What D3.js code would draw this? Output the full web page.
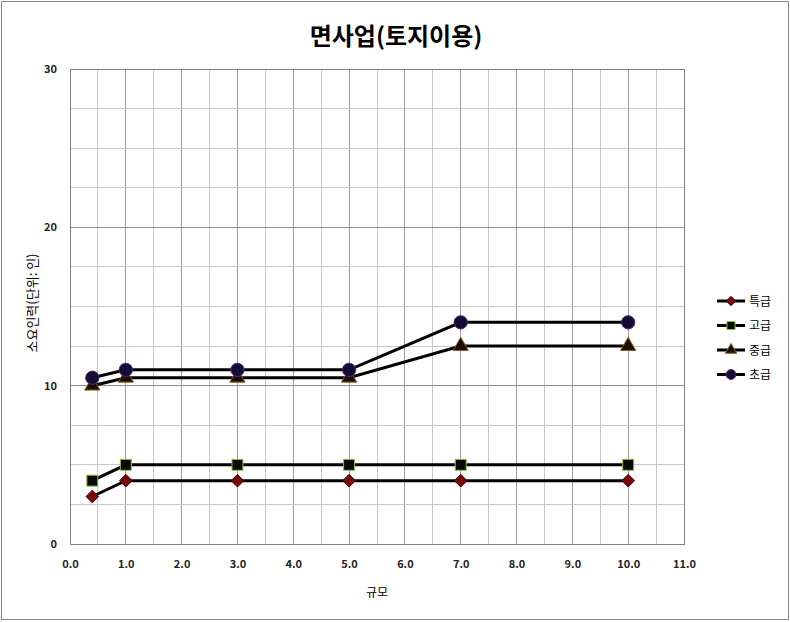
<!DOCTYPE html>
<html><head><meta charset="utf-8">
<script src="https://cdn.jsdelivr.net/npm/d3@7"></script>
<style>body{margin:0;background:#fff;} text{font-family:"Noto Sans CJK KR","Noto Sans",sans-serif;}</style>
</head><body>
<svg id="c" width="790" height="622"></svg>
<script>
const xValues = [0.4, 1, 3, 5, 7, 10];
const seriesNames = ["특급", "고급", "중급", "초급"];
const s1 = [3, 4, 4, 4, 4, 4];
const s2 = [4, 5, 5, 5, 5, 5];
const s3 = [10, 10.5, 10.5, 10.5, 12.5, 12.5];
const s4 = [10.5, 11, 11, 11, 14, 14];
const xTicks = [0,1,2,3,4,5,6,7,8,9,10,11];
const yTicks = [0,10,20,30];
const title = "면사업(토지이용)";
const xLabel = "규모";
const yLabel = "소요인력(단위: 인)";

const svg = d3.select("#c");
svg.append("rect").attr("x",1.5).attr("y",1.5).attr("width",787).attr("height",618)
  .attr("fill","#fff").attr("stroke","#888").attr("stroke-width",1);

const L=70, R=684, T=69, B=544;
const x = d3.scaleLinear().domain([0,11]).range([L,R]);
const y = d3.scaleLinear().domain([0,30]).range([B,T]);

const g = svg.append("g");
d3.range(0,11.01,0.5).forEach(v=>{
  const major = Math.abs(v-Math.round(v))<1e-6;
  g.append("line").attr("x1",x(v)).attr("x2",x(v)).attr("y1",T).attr("y2",B)
   .attr("stroke", major?"#a0a0a0":"#c8c8c8").attr("stroke-width",1).attr("shape-rendering","crispEdges");
});
d3.range(0,30.01,2.5).forEach(v=>{
  const major = Math.abs(v%10)<1e-6;
  g.append("line").attr("x1",L).attr("x2",R).attr("y1",y(v)).attr("y2",y(v))
   .attr("stroke", major?"#909090":"#c8c8c8").attr("stroke-width",1).attr("shape-rendering","crispEdges");
});
g.append("rect").attr("x",L).attr("y",T).attr("width",R-L).attr("height",B-T)
 .attr("fill","none").attr("stroke","#808080").attr("shape-rendering","crispEdges");

const xAxis = d3.axisBottom(x).tickValues(xTicks).tickFormat(d3.format(".1f")).tickSize(0).tickPadding(16);
const xa = svg.append("g").attr("transform",`translate(0,${B})`).call(xAxis);
xa.select(".domain").remove();
xa.selectAll("text").attr("font-size",11).attr("font-weight","bold").attr("fill","#222").attr("font-family","'Liberation Sans',sans-serif");
const yAxis = d3.axisLeft(y).tickValues(yTicks).tickSize(0).tickPadding(13);
const ya = svg.append("g").attr("transform",`translate(${L},0)`).call(yAxis);
ya.select(".domain").remove();
ya.selectAll("text").attr("font-size",11).attr("font-weight","bold").attr("fill","#222").attr("font-family","'Liberation Sans',sans-serif");

svg.append("text").attr("x",396).attr("y",45).attr("text-anchor","middle")
  .attr("font-size",24).attr("font-weight","bold").text(title);
svg.append("text").attr("x",377).attr("y",597).attr("text-anchor","middle")
  .attr("font-size",12).text(xLabel);
svg.append("text").attr("transform","translate(37,303) rotate(-90)").attr("text-anchor","middle")
  .attr("font-size",13).text(yLabel);

const rotSquare = {draw(ctx, size){ const r=Math.sqrt(size/2); ctx.moveTo(0,-r); ctx.lineTo(r,0); ctx.lineTo(0,r); ctx.lineTo(-r,0); ctx.closePath(); }};
const series = [
  {name:seriesNames[0], vals:s1, shape:rotSquare, size:80, fill:"#7a0a0a", stroke:"#3a0000"},
  {name:seriesNames[1], vals:s2, shape:d3.symbolSquare, size:120, fill:"#0a0a0a", stroke:"#8fbf3f"},
  {name:seriesNames[2], vals:s3, shape:d3.symbolTriangle, size:100, fill:"#1a0f05", stroke:"#8a5a20"},
  {name:seriesNames[3], vals:s4, shape:d3.symbolCircle, size:140, fill:"#150c35", stroke:"#4a3070"}
];
const line = d3.line().x((d,i)=>x(xValues[i])).y(d=>y(d));
series.forEach(s=>{
  svg.append("path").attr("d",line(s.vals)).attr("fill","none").attr("stroke","#000").attr("stroke-width",3);
});
series.forEach(s=>{
  svg.selectAll(null).data(s.vals).enter().append("path")
   .attr("d",d3.symbol().type(s.shape).size(s.size))
   .attr("transform",(d,i)=>`translate(${x(xValues[i])},${y(d)})`)
   .attr("fill",s.fill).attr("stroke",s.stroke).attr("stroke-width",1);
});
const lg = svg.append("g");
series.forEach((s,i)=>{
  const yy = 301 + i*24.5;
  lg.append("line").attr("x1",717).attr("x2",745).attr("y1",yy).attr("y2",yy).attr("stroke","#000").attr("stroke-width",3);
  lg.append("path").attr("d",d3.symbol().type(s.shape).size(s.size*0.55)).attr("transform",`translate(731,${yy})`)
    .attr("fill",s.fill).attr("stroke",s.stroke);
  lg.append("text").attr("x",749).attr("y",yy+4.5).attr("font-size",12).text(s.name);
});
</script>
</body></html>
